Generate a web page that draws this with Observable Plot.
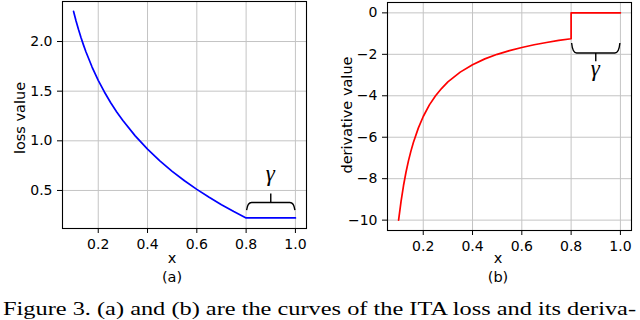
<!DOCTYPE html>
<html>
<head>
<meta charset="utf-8">
<script src="https://cdn.jsdelivr.net/npm/d3@7"></script>
<script src="https://cdn.jsdelivr.net/npm/@observablehq/plot@0.6"></script>
<style>
  html, body { margin: 0; padding: 0; background: #fff; }
  #wrap { position: relative; width: 640px; height: 320px; overflow: hidden; background: #fff; font-family: "DejaVu Sans", sans-serif; color: #000; }
  .panel { position: absolute; top: 0; }
  .lbl { position: absolute; font-family: "DejaVu Sans", sans-serif; font-size: 14.5px; white-space: nowrap; transform: translate(-50%, -50%); line-height: 1; }
  .ylbl { transform: translate(-50%, -50%) rotate(-90deg); }
</style>
</head>
<body>
<div id="wrap"></div>
<script>
// ---- data ----
const lossX = [0.10, 0.11, 0.12, 0.13, 0.14, 0.15, 0.175, 0.20, 0.225, 0.25, 0.275, 0.30, 0.35, 0.40, 0.45, 0.50, 0.55, 0.60, 0.65, 0.70, 0.75, 0.80, 0.85, 0.90, 0.95, 1.00];
const lossY = [2.303, 2.207, 2.120, 2.040, 1.966, 1.897, 1.743, 1.609, 1.492, 1.386, 1.291, 1.204, 1.050, 0.916, 0.799, 0.693, 0.598, 0.511, 0.431, 0.357, 0.288, 0.223, 0.223, 0.223, 0.223, 0.223];

const derivX = [0.10, 0.11, 0.12, 0.13, 0.14, 0.15, 0.16, 0.18, 0.20, 0.225, 0.25, 0.275, 0.30, 0.35, 0.40, 0.45, 0.50, 0.55, 0.60, 0.65, 0.70, 0.75, 0.80, 0.80, 1.00];
const derivY = [-10.0, -9.09, -8.33, -7.69, -7.14, -6.67, -6.25, -5.56, -5.00, -4.44, -4.00, -3.64, -3.33, -2.86, -2.50, -2.22, -2.00, -1.82, -1.67, -1.54, -1.43, -1.33, -1.25, 0, 0];

const xTicks = [0.2, 0.4, 0.6, 0.8, 1.0];
const lossTicks = [0.5, 1.0, 1.5, 2.0];
const derivTicks = [-10, -8, -6, -4, -2, 0];

const gammaStart = 0.8, gammaEnd = 1.0, gammaMid = 0.9;
const lossFlat = 0.223, derivFlat = 0;

const labels = { lossY: "loss value", derivY: "derivative value", x: "x", a: "(a)", b: "(b)", gamma: "γ" };
const caption = "Figure 3. (a) and (b) are the curves of the ITA loss and its deriva-";

// ---- helpers ----
const NS = "http://www.w3.org/2000/svg";
const fmt1 = d => d.toFixed(1);
const fmtMinus = d => d < 0 ? "\u2212" + (-d) : String(d);
const serif = "'Liberation Serif', 'DejaVu Serif', serif";

function brace(x0, x1, yv, dir) {
  // dir = -1: brace above the line (opening down); +1: below the line (opening up)
  return (index, scales) => {
    const X0 = scales.x(x0) + 1, X1 = scales.x(x1), Y = scales.y(yv);
    const Xc = (X0 + X1) / 2;
    let ye, yh, yt;
    if (dir < 0) { ye = Y - 7.3; yh = Y - 15; yt = Y - 24; }
    else { ye = Y + 30.6; yh = Y + 40.6; yt = Y + 49; }
    const g = document.createElementNS(NS, "g");
    const p = document.createElementNS(NS, "path");
    p.setAttribute("d",
      `M${X0},${ye} Q${X0 + 1},${yh} ${X0 + 5},${yh} H${X1 - 5} Q${X1 - 1},${yh} ${X1},${ye}` +
      ` M${Xc},${yh} V${yt}`);
    p.setAttribute("fill", "none");
    p.setAttribute("stroke", "#000");
    p.setAttribute("stroke-width", "1.4");
    g.appendChild(p);
    return g;
  };
}

function gammaText(text, x, y, dy) {
  return (index, scales) => {
    const t = document.createElementNS(NS, "text");
    t.setAttribute("x", scales.x(x));
    t.setAttribute("y", scales.y(y) + dy);
    t.setAttribute("text-anchor", "middle");
    t.setAttribute("font-family", serif);
    t.setAttribute("font-style", "italic");
    t.setAttribute("font-size", "23");
    t.setAttribute("fill", "#000");
    t.textContent = text;
    return t;
  };
}

const gridStyle = { stroke: "#c4c4c4", strokeOpacity: 1, strokeWidth: 1 };
const common = {
  width: 320, height: 290,
  style: { fontFamily: "DejaVu Sans, sans-serif", fontSize: "14px", background: "transparent", color: "#000", overflow: "visible" }
};

// ---- left panel ----
const left = Plot.plot({
  ...common,
  marginLeft: 62, marginRight: 14, marginTop: 1, marginBottom: 62,
  x: { domain: [0.055, 1.045] },
  y: { domain: [0.117, 2.403] },
  marks: [
    Plot.gridX(xTicks, gridStyle),
    Plot.gridY(lossTicks, gridStyle),
    Plot.line(lossX.map((x, i) => [x, lossY[i]]), { stroke: "#0000ff", strokeWidth: 1.7 }),
    Plot.frame({ stroke: "#000", strokeWidth: 1.1 }),
    Plot.axisX(xTicks, { tickFormat: fmt1, tickSize: 5, tickPadding: 6, label: null, fontSize: 14 }),
    Plot.axisY(lossTicks, { tickFormat: fmt1, tickSize: 5, tickPadding: 5, label: null, fontSize: 14 }),
    brace(gammaStart, gammaEnd, lossFlat, -1),
    gammaText(labels.gamma, gammaMid, lossFlat, -36.5)
  ]
});

// ---- right panel ----
const right = Plot.plot({
  ...common,
  marginLeft: 67, marginRight: 9, marginTop: 2, marginBottom: 60,
  x: { domain: [0.055, 1.045] },
  y: { domain: [-10.5, 0.5] },
  marks: [
    Plot.gridX(xTicks, gridStyle),
    Plot.gridY(derivTicks, gridStyle),
    Plot.line(derivX.map((x, i) => [x, derivY[i]]), { stroke: "#ff0000", strokeWidth: 1.7 }),
    Plot.frame({ stroke: "#000", strokeWidth: 1.1 }),
    Plot.axisX(xTicks, { tickFormat: fmt1, tickSize: 5, tickPadding: 6, label: null, fontSize: 14 }),
    Plot.axisY(derivTicks, { tickFormat: fmtMinus, tickSize: 5, tickPadding: 5, label: null, fontSize: 14 }),
    brace(gammaStart, gammaEnd, derivFlat, 1),
    gammaText(labels.gamma, gammaMid, derivFlat, 64)
  ]
});

const wrap = document.getElementById("wrap");
left.classList.add("panel"); left.style.left = "0px";
right.classList.add("panel"); right.style.left = "320px";
wrap.appendChild(left);
wrap.appendChild(right);

function addLabel(text, x, y, cls) {
  const d = document.createElement("div");
  d.className = "lbl" + (cls ? " " + cls : "");
  d.textContent = text;
  d.style.left = x + "px";
  d.style.top = y + "px";
  wrap.appendChild(d);
}
addLabel(labels.lossY, 20, 117.5, "ylbl");
addLabel(labels.derivY, 347, 115, "ylbl");
addLabel(labels.x, 172, 258);
addLabel(labels.a, 172, 277);
addLabel(labels.x, 498, 258);
addLabel(labels.b, 498, 277);

// caption (serif, at the bottom edge, kept fully inside the picture)
const cap = document.createElementNS(NS, "svg");
cap.setAttribute("width", 640); cap.setAttribute("height", 30);
cap.style.position = "absolute"; cap.style.left = "0px"; cap.style.top = "290px";
const ct = document.createElementNS(NS, "text");
ct.setAttribute("x", 3); ct.setAttribute("y", 24.5);
ct.setAttribute("textLength", 633);
ct.setAttribute("lengthAdjust", "spacingAndGlyphs");
ct.setAttribute("font-family", serif);
ct.setAttribute("font-size", "18.5");
ct.setAttribute("fill", "#000");
ct.textContent = caption;
cap.appendChild(ct);
wrap.appendChild(cap);
</script>
</body>
</html>
